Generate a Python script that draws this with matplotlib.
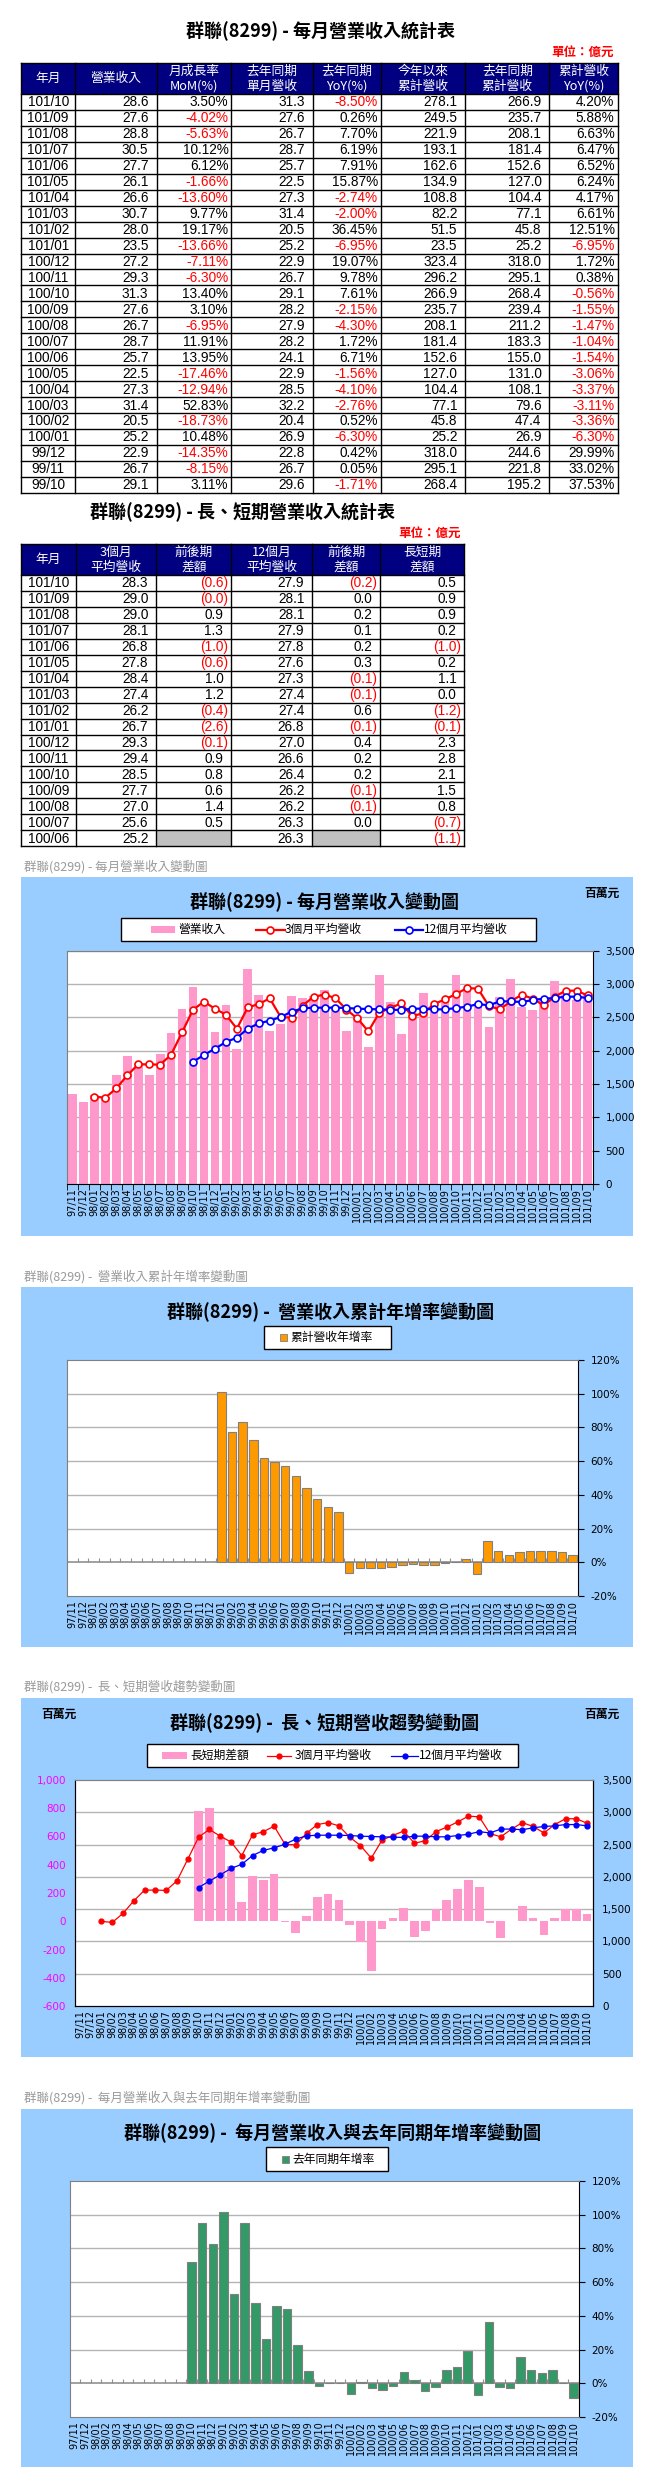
import numpy as np
import matplotlib
matplotlib.use('Agg')
import matplotlib.pyplot as plt
from matplotlib.patches import Rectangle
from matplotlib.ticker import FuncFormatter

# ---------------- data ----------------
months = ['97/11', '97/12',
          '98/01', '98/02', '98/03', '98/04', '98/05', '98/06', '98/07', '98/08', '98/09', '98/10', '98/11', '98/12',
          '99/01', '99/02', '99/03', '99/04', '99/05', '99/06', '99/07', '99/08', '99/09', '99/10', '99/11', '99/12',
          '100/01', '100/02', '100/03', '100/04', '100/05', '100/06', '100/07', '100/08', '100/09', '100/10', '100/11', '100/12',
          '101/01', '101/02', '101/03', '101/04', '101/05', '101/06', '101/07', '101/08', '101/09', '101/10']

revenue = [1355, 1235,
           1340, 1310, 1640, 1925, 1820, 1640, 1955, 2270, 2630, 2960, 2670, 2280,
           2690, 2030, 3230, 2840, 2290, 2405, 2825, 2795, 2825, 2910, 2670, 2290,
           2520, 2050, 3140, 2730, 2250, 2570, 2870, 2670, 2760, 3130, 2930, 2720,
           2350, 2800, 3070, 2660, 2610, 2770, 3050, 2880, 2760, 2860]

nan = np.nan
avg3 = [nan, nan,
        1310, 1295, 1435, 1630, 1795, 1795, 1790, 1940, 2275, 2615, 2735, 2630,
        2540, 2330, 2650, 2700, 2785, 2505, 2495, 2675, 2810, 2840, 2790, 2615,
        2485, 2290, 2570, 2640, 2710, 2520, 2560, 2700, 2770, 2850, 2940, 2930,
        2670, 2620, 2740, 2840, 2780, 2680, 2810, 2900, 2900, 2830]

avg12 = [nan, nan,
         nan, nan, nan, nan, nan, nan, nan, nan, nan, 1835, 1935, 2030,
         2130, 2195, 2330, 2410, 2450, 2505, 2585, 2635, 2645, 2645, 2645, 2640,
         2630, 2625, 2620, 2615, 2610, 2630, 2630, 2620, 2620, 2640, 2660, 2700,
         2680, 2740, 2740, 2730, 2760, 2780, 2790, 2810, 2810, 2790]

ls_diff = [nan, nan,
           nan, nan, nan, nan, nan, nan, nan, nan, nan, 780, 800, 600,
           390, 135, 320, 290, 335, -5, -85, 40, 170, 195, 150, -25,
           -145, -350, -55, 25, 95, -110, -70, 90, 150, 225, 290, 240,
           -10, -120, 5, 110, 20, -100, 20, 90, 90, 50]

cum_yoy = [nan, nan,
           nan, nan, nan, nan, nan, nan, nan, nan, nan, nan, nan, nan,
           101.0, 77.0, 83.5, 72.5, 62.0, 59.5, 57.0, 51.0, 44.0, 37.53, 33.02, 29.99,
           -6.30, -3.36, -3.11, -3.37, -3.06, -1.54, -1.04, -1.47, -1.55, -0.56, 0.38, 1.72,
           -6.95, 12.51, 6.61, 4.17, 6.24, 6.52, 6.47, 6.63, 5.88, 4.20]

yoy = [nan, nan,
       nan, nan, nan, nan, nan, nan, nan, nan, nan, 72.0, 95.0, 82.5,
       101.5, 53.0, 95.0, 47.5, 26.0, 46.0, 44.0, 23.0, 7.0, -1.71, 0.05, 0.42,
       -6.30, 0.52, -2.76, -4.10, -1.56, 6.71, 1.72, -4.30, -2.15, 7.61, 9.78, 19.07,
       -6.95, 36.45, -2.00, -2.74, 15.87, 7.91, 6.19, 7.70, 0.26, -8.50]

# table 1
t1_headers = [['年月'], ['營業收入'], ['月成長率', 'MoM(%)'], ['去年同期', '單月營收'], ['去年同期', 'YoY(%)'],
              ['今年以來', '累計營收'], ['去年同期', '累計營收'], ['累計營收', 'YoY(%)']]
t1_ym = ['101/10', '101/09', '101/08', '101/07', '101/06', '101/05', '101/04', '101/03', '101/02', '101/01',
         '100/12', '100/11', '100/10', '100/09', '100/08', '100/07', '100/06', '100/05', '100/04', '100/03',
         '100/02', '100/01', '99/12', '99/11', '99/10']
t1_rev = [28.6, 27.6, 28.8, 30.5, 27.7, 26.1, 26.6, 30.7, 28.0, 23.5, 27.2, 29.3, 31.3, 27.6, 26.7, 28.7,
          25.7, 22.5, 27.3, 31.4, 20.5, 25.2, 22.9, 26.7, 29.1]
t1_mom = [3.50, -4.02, -5.63, 10.12, 6.12, -1.66, -13.60, 9.77, 19.17, -13.66, -7.11, -6.30, 13.40, 3.10,
          -6.95, 11.91, 13.95, -17.46, -12.94, 52.83, -18.73, 10.48, -14.35, -8.15, 3.11]
t1_ly = [31.3, 27.6, 26.7, 28.7, 25.7, 22.5, 27.3, 31.4, 20.5, 25.2, 22.9, 26.7, 29.1, 28.2, 27.9, 28.2,
         24.1, 22.9, 28.5, 32.2, 20.4, 26.9, 22.8, 26.7, 29.6]
t1_yoy = [-8.50, 0.26, 7.70, 6.19, 7.91, 15.87, -2.74, -2.00, 36.45, -6.95, 19.07, 9.78, 7.61, -2.15,
          -4.30, 1.72, 6.71, -1.56, -4.10, -2.76, 0.52, -6.30, 0.42, 0.05, -1.71]
t1_ytd = [278.1, 249.5, 221.9, 193.1, 162.6, 134.9, 108.8, 82.2, 51.5, 23.5, 323.4, 296.2, 266.9, 235.7,
          208.1, 181.4, 152.6, 127.0, 104.4, 77.1, 45.8, 25.2, 318.0, 295.1, 268.4]
t1_lytd = [266.9, 235.7, 208.1, 181.4, 152.6, 127.0, 104.4, 77.1, 45.8, 25.2, 318.0, 295.1, 268.4, 239.4,
           211.2, 183.3, 155.0, 131.0, 108.1, 79.6, 47.4, 26.9, 244.6, 221.8, 195.2]
t1_ytdyoy = [4.20, 5.88, 6.63, 6.47, 6.52, 6.24, 4.17, 6.61, 12.51, -6.95, 1.72, 0.38, -0.56, -1.55,
             -1.47, -1.04, -1.54, -3.06, -3.37, -3.11, -3.36, -6.30, 29.99, 33.02, 37.53]

# table 2
t2_headers = [['年月'], ['3個月', '平均營收'], ['前後期', '差額'], ['12個月', '平均營收'], ['前後期', '差額'], ['長短期', '差額']]
t2_ym = ['101/10', '101/09', '101/08', '101/07', '101/06', '101/05', '101/04', '101/03', '101/02', '101/01',
         '100/12', '100/11', '100/10', '100/09', '100/08', '100/07', '100/06']
t2_avg3 = [28.3, 29.0, 29.0, 28.1, 26.8, 27.8, 28.4, 27.4, 26.2, 26.7, 29.3, 29.4, 28.5, 27.7, 27.0, 25.6, 25.2]
t2_d3 = [-0.6, -0.01, 0.9, 1.3, -1.0, -0.6, 1.0, 1.2, -0.4, -2.6, -0.1, 0.9, 0.8, 0.6, 1.4, 0.5, None]
t2_avg12 = [27.9, 28.1, 28.1, 27.9, 27.8, 27.6, 27.3, 27.4, 27.4, 26.8, 27.0, 26.6, 26.4, 26.2, 26.2, 26.3, 26.3]
t2_d12 = [-0.2, 0.0, 0.2, 0.1, 0.2, 0.3, -0.1, -0.1, 0.6, -0.1, 0.4, 0.2, 0.2, -0.1, -0.1, 0.0, None]
t2_ls = [0.5, 0.9, 0.9, 0.2, -1.0, 0.2, 1.1, 0.0, -1.2, -0.1, 2.3, 2.8, 2.1, 1.5, 0.8, -0.7, -1.1]

# ---------------- figure ----------------
W, H = 655, 2491
CJK = ['Noto Sans CJK TC', 'DejaVu Sans']
plt.rcParams['font.family'] = CJK
NUMF = 'DejaVu Sans'
TABF = 'Liberation Sans'

fig = plt.figure(figsize=(W / 100, H / 100), dpi=100)
fig.patch.set_facecolor('white')
bg = fig.add_axes([0, 0, 1, 1])
bg.set_xlim(0, W)
bg.set_ylim(H, 0)
bg.axis('off')


def axrect(x0, y0, x1, y1):
    return [x0 / W, 1 - y1 / H, (x1 - x0) / W, (y1 - y0) / H]


NAVY = '#000080'
LW = 1.0
TFS = 9.8   # table number font size
HFS = 9.2   # header font size


def draw_table(cols, yh0, yh1, rowh, headers, nrows):
    bg.add_patch(Rectangle((cols[0], yh0), cols[-1] - cols[0], yh1 - yh0, facecolor=NAVY, edgecolor='none'))
    for j, hd in enumerate(headers):
        cx = (cols[j] + cols[j + 1]) / 2
        if len(hd) == 1:
            bg.text(cx, (yh0 + yh1) / 2, hd[0], ha='center', va='center', color='white', fontsize=HFS)
        else:
            bg.text(cx, yh0 + 8, hd[0], ha='center', va='center', color='white', fontsize=HFS)
            bg.text(cx, yh0 + 23, hd[1], ha='center', va='center', color='white', fontsize=HFS)
    ybot = yh1 + rowh * nrows
    for xc in cols:
        bg.plot([xc, xc], [yh0, ybot], color='black', lw=LW)
    bg.plot([cols[0], cols[-1]], [yh0, yh0], color='black', lw=LW)
    for i in range(nrows + 1):
        yy = yh1 + rowh * i
        bg.plot([cols[0], cols[-1]], [yy, yy], color='black', lw=LW)


# ---- Table 1 ----
bg.text(320, 31, '群聯(8299) - 每月營業收入統計表', ha='center', va='center', fontsize=13, fontweight='bold')
bg.text(614, 52, '單位：億元', ha='right', va='center', fontsize=9, color='red', fontweight='bold')
c1 = [21, 75.3, 156.5, 231.4, 313.0, 380.8, 465.3, 549.4, 617.6]
h0, h1, rh = 63, 94, 15.95
draw_table(c1, h0, h1, rh, t1_headers, len(t1_ym))
for i in range(len(t1_ym)):
    yc = h1 + rh * i + rh / 2 + 0.5
    bg.text((c1[0] + c1[1]) / 2, yc, t1_ym[i], ha='center', va='center', fontsize=TFS, family=TABF)
    for j, (vals, pct) in enumerate([(t1_rev, False), (t1_mom, True), (t1_ly, False), (t1_yoy, True),
                                      (t1_ytd, False), (t1_lytd, False), (t1_ytdyoy, True)]):
        v = vals[i]
        if pct:
            s = f'{v:.2f}%'
            col = 'red' if v < 0 else 'black'
            xr = c1[j + 2] - 3
        else:
            s = f'{v:.1f}'
            col = 'black'
            xr = c1[j + 2] - 8
        bg.text(xr, yc, s, ha='right', va='center', fontsize=TFS, family=TABF, color=col)

# ---- Table 2 ----
bg.text(243, 512, '群聯(8299) - 長、短期營業收入統計表', ha='center', va='center', fontsize=13, fontweight='bold')
bg.text(461, 533, '單位：億元', ha='right', va='center', fontsize=9, color='red', fontweight='bold')
c2 = [21, 75.7, 156.3, 231.3, 312.3, 380.3, 464.3]
g0, g1 = 544, 575
n2 = len(t2_ym)
bg.add_patch(Rectangle((c2[2], g1 + rh * (n2 - 1)), c2[3] - c2[2], rh, facecolor='#C0C0C0', edgecolor='none'))
bg.add_patch(Rectangle((c2[4], g1 + rh * (n2 - 1)), c2[5] - c2[4], rh, facecolor='#C0C0C0', edgecolor='none'))
draw_table(c2, g0, g1, rh, t2_headers, n2)
for i in range(n2):
    yc = g1 + rh * i + rh / 2 + 0.5
    bg.text((c2[0] + c2[1]) / 2, yc, t2_ym[i], ha='center', va='center', fontsize=TFS, family=TABF)
    for j, (vals, acct) in enumerate([(t2_avg3, False), (t2_d3, True), (t2_avg12, False), (t2_d12, True), (t2_ls, True)]):
        v = vals[i]
        if v is None:
            continue
        if acct and v < 0:
            s = f'({abs(v):.1f})'
            col = 'red'
            xr = c2[j + 2] - 3
        else:
            s = f'{v:.1f}'
            col = 'black'
            xr = c2[j + 2] - 8
        bg.text(xr, yc, s, ha='right', va='center', fontsize=TFS, family=TABF, color=col)

# ---------------- charts ----------------
BLUEBG = '#99CCFF'
PINK = '#FF99CC'
GRID = '#B4B4B4'
CAPC = '#9A9A9A'
x = np.arange(len(months))


def chart_box(cap, ycap, y0, y1):
    bg.text(24, ycap, cap, ha='left', va='center', fontsize=9, color=CAPC)
    bg.add_patch(Rectangle((21, y0), 633 - 21, y1 - y0, facecolor=BLUEBG, edgecolor='none'))


def legend_box(x0, y0, x1, y1):
    bg.add_patch(Rectangle((x0, y0), x1 - x0, y1 - y0, facecolor='white', edgecolor='black', lw=1))


def style_cat_axis(ax, tick_len=4):
    ax.set_xlim(-0.5, len(months) - 0.5)
    ax.set_xticks(x)
    ax.set_xticklabels(months, rotation=90, fontsize=7, family=NUMF)
    ax.set_xticks(np.arange(-0.5, len(months), 1), minor=True)
    ax.tick_params(axis='x', which='major', length=0, pad=3)
    ax.tick_params(axis='x', which='minor', length=tick_len, direction='out', color='black')


# ---- Chart 1 ----
chart_box('群聯(8299) - 每月營業收入變動圖', 867, 877, 1236)
bg.text(324, 902, '群聯(8299) - 每月營業收入變動圖', ha='center', va='center', fontsize=13, fontweight='bold')
bg.text(602, 893, '百萬元', ha='center', va='center', fontsize=8.5, fontweight='bold')
legend_box(120.5, 918, 536, 941)
ly = 929.5
bg.add_patch(Rectangle((150.6, ly - 3.5), 24.5, 7, facecolor=PINK, edgecolor='none'))
bg.text(178, ly, '營業收入', ha='left', va='center', fontsize=8.5)
bg.plot([256, 284.5], [ly, ly], color='red', lw=1.6)
bg.plot([270], [ly], marker='o', ms=5, mfc='white', mec='red', mew=1.2)
bg.text(285, ly, '3個月平均營收', ha='left', va='center', fontsize=8.5)
bg.plot([395, 422.6], [ly, ly], color='blue', lw=1.6)
bg.plot([409], [ly], marker='o', ms=5, mfc='white', mec='blue', mew=1.2)
bg.text(423.5, ly, '12個月平均營收', ha='left', va='center', fontsize=8.5)

ax1 = fig.add_axes(axrect(67, 950.7, 593, 1184))
ax1.set_facecolor('white')
ax1.bar(x, revenue, width=0.8, color=PINK, zorder=2)
ax1.plot(x, avg3, color='red', lw=1.6, marker='o', ms=5, mfc='white', mec='red', mew=1.2, zorder=3)
ax1.plot(x, avg12, color='blue', lw=1.6, marker='o', ms=5, mfc='white', mec='blue', mew=1.2, zorder=4)
ax1.set_ylim(0, 3500)
ax1.set_yticks(range(0, 3501, 500))
ax1.yaxis.set_major_formatter(FuncFormatter(lambda v, p: f'{int(v):,}'))
ax1.yaxis.tick_right()
ax1.tick_params(axis='y', length=4, direction='out', labelsize=7.5, pad=5)
for lab in ax1.get_yticklabels():
    lab.set_family(NUMF)
style_cat_axis(ax1)
ax1.grid(axis='y', color=GRID, lw=1)
ax1.set_axisbelow(True)
ax1.spines['left'].set_color('#808080')
ax1.spines['top'].set_color('#808080')
ax1.spines['right'].set_color('black')
ax1.spines['bottom'].set_color('black')


def pct_chart(cap, ycap, box0, box1, ttl, yttl, leg, legtxt, color, vals, rect):
    chart_box(cap, ycap, box0, box1)
    bg.text(rect[0] + (rect[2] - rect[0]) / 2 + 8, yttl, ttl, ha='center', va='center', fontsize=13, fontweight='bold')
    legend_box(*leg)
    lyc = (leg[1] + leg[3]) / 2
    bg.add_patch(Rectangle((leg[0] + 16, lyc - 3.5), 7, 7, facecolor=color, edgecolor='#808080', lw=0.6))
    bg.text(leg[0] + 26, lyc, legtxt, ha='left', va='center', fontsize=8.5)
    ax = fig.add_axes(axrect(*rect))
    ax.set_facecolor('white')
    ax.bar(x, vals, width=0.8, color=color, edgecolor='#808080', lw=0.8, zorder=3)
    ax.set_ylim(-20, 120)
    ax.set_yticks(range(-20, 121, 20))
    ax.yaxis.set_major_formatter(FuncFormatter(lambda v, p: f'{int(v)}%'))
    ax.yaxis.tick_right()
    ax.tick_params(axis='y', length=4, direction='out', labelsize=7.5, pad=5)
    for lab in ax.get_yticklabels():
        lab.set_family(NUMF)
    ax.set_xlim(-0.5, len(months) - 0.5)
    ax.set_xticks(x)
    ax.set_xticklabels(months, rotation=90, fontsize=7, family=NUMF)
    ax.tick_params(axis='x', length=0, pad=3)
    for g in range(20, 101, 20):
        ax.axhline(g, color=GRID, lw=1, zorder=1)
    ax.axhline(0, color='#909090', lw=1.2, zorder=2)
    ax.vlines(np.arange(-0.5, len(months), 1), 0, 2.3, color='#909090', lw=0.8, zorder=2)
    for s in ['left', 'top', 'bottom']:
        ax.spines[s].set_color('#808080')
    ax.spines['right'].set_color('black')
    return ax


# ---- Chart 2 ----
pct_chart('群聯(8299) -  營業收入累計年增率變動圖', 1277, 1287, 1647,
          '群聯(8299) -  營業收入累計年增率變動圖', 1312,
          (264, 1326, 391, 1349), '累計營收年增率', '#FF9900', cum_yoy, (67, 1360, 578, 1596))

# ---- Chart 3 ----
chart_box('群聯(8299) -  長、短期營收趨勢變動圖', 1687, 1698, 2057)
bg.text(325, 1723, '群聯(8299) -  長、短期營收趨勢變動圖', ha='center', va='center', fontsize=13, fontweight='bold')
bg.text(59, 1714, '百萬元', ha='center', va='center', fontsize=8.5, fontweight='bold')
bg.text(602, 1714, '百萬元', ha='center', va='center', fontsize=8.5, fontweight='bold')
legend_box(147, 1744, 518, 1767)
ly = 1755.5
bg.add_patch(Rectangle((162, ly - 3.5), 25, 7, facecolor=PINK, edgecolor='none'))
bg.text(190, ly, '長短期差額', ha='left', va='center', fontsize=8.5)
bg.plot([267, 291], [ly, ly], color='red', lw=0.9)
bg.plot([279], [ly], marker='o', ms=3.5, color='red')
bg.text(295, ly, '3個月平均營收', ha='left', va='center', fontsize=8.5)
bg.plot([391, 418], [ly, ly], color='blue', lw=0.9)
bg.plot([405], [ly], marker='o', ms=3.5, color='blue')
bg.text(419, ly, '12個月平均營收', ha='left', va='center', fontsize=8.5)

ax3 = fig.add_axes(axrect(74.5, 1780, 592.5, 2006))
ax3.set_facecolor('white')
ax3.set_ylim(-600, 1000)
for v in range(500, 3001, 500):
    ax3.axhline(-600 + v * 1600 / 3500, color=GRID, lw=1, zorder=0)
ax3.bar(x, ls_diff, width=0.8, color=PINK, zorder=2)
ax3.set_yticks(range(-600, 1001, 200))
ax3.yaxis.set_major_formatter(FuncFormatter(lambda v, p: f'{int(v):,}'))
ax3.tick_params(axis='y', length=0, labelsize=7.5, labelcolor='#FF00FF', pad=6)
for lab in ax3.get_yticklabels():
    lab.set_family(NUMF)
style_cat_axis(ax3, tick_len=0)
ax3r = ax3.twinx()
ax3r.plot(x, avg3, color='red', lw=0.9, marker='o', ms=3.5, zorder=3)
ax3r.plot(x, avg12, color='blue', lw=0.9, marker='o', ms=3.5, zorder=4)
ax3r.set_ylim(0, 3500)
ax3r.set_yticks(range(0, 3501, 500))
ax3r.yaxis.set_major_formatter(FuncFormatter(lambda v, p: f'{int(v):,}'))
ax3r.tick_params(axis='y', length=0, labelsize=7.5, pad=7)
for lab in ax3r.get_yticklabels():
    lab.set_family(NUMF)
for a in (ax3, ax3r):
    a.spines['left'].set_color('black')
    a.spines['right'].set_color('black')
    a.spines['bottom'].set_color('black')
    a.spines['top'].set_color('#808080')

# ---- Chart 4 ----
pct_chart('群聯(8299) -  每月營業收入與去年同期年增率變動圖', 2098, 2109, 2467,
          '群聯(8299) -  每月營業收入與去年同期年增率變動圖', 2133,
          (266, 2147, 388, 2171), '去年同期年增率', '#339966', yoy, (69.5, 2181, 579, 2417))

fig.savefig('out.png', dpi=100, facecolor='white')
